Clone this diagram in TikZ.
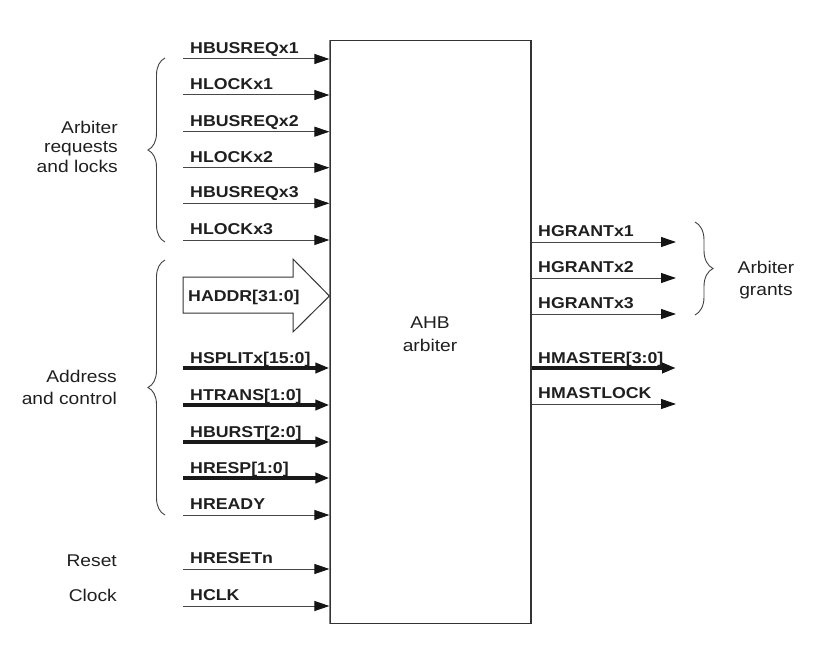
\documentclass[tikz,border=0pt]{standalone}
\usepackage{fontspec}
\setmainfont{Liberation Sans}[FakeStretch=1.13]
\usetikzlibrary{arrows.meta,decorations.pathreplacing}
\begin{document}
\begin{tikzpicture}[x=1pt,y=-1pt,
  sig/.style={draw=black!72, line width=1pt, -{Triangle[length=15pt,width=10pt,color=black!92]}},
  bus/.style={draw=black!90, line width=4pt, -{Triangle[length=14pt,width=10pt,color=black!92]}},
  lab/.style={font=\fontsize{15.7}{18}\selectfont\bfseries, anchor=base west, inner sep=0pt, text=black!88},
  txt/.style={font=\fontsize{17}{20}\selectfont, inner sep=0pt, text=black!88},
  brc/.style={draw=black!75, line width=0.9pt, decorate, decoration={brace, amplitude=17pt}}]
\useasboundingbox (0,0) rectangle (831,661);

% main block
\node[draw=black!80, line width=1.2pt, minimum width=201pt, minimum height=583pt, inner sep=0pt] (box) at (430.5,332) {};
\draw[black!50, line width=1.2pt] (box.north west) -- (box.south west);
\node[txt, anchor=base] (ahb) at (430,328) {AHB};
\node[txt, anchor=base] (arb) at (430,351.7) {arbiter};

% left single-bit inputs
\foreach \n/\y/\t in {1/59/HBUSREQx1, 2/95/HLOCKx1, 3/131.7/HBUSREQx2, 4/167.7/HLOCKx2,
                      5/203.3/HBUSREQx3, 6/240/HLOCKx3, 7/515/HREADY, 8/569/HRESETn, 9/606/HCLK} {
  \coordinate (in\n) at (183,\y);
  \node[lab] (lin\n) at (190,\y-5.5) {\t};
  \draw[sig] (in\n) -- (in\n -| box.west);
}
% left buses
\foreach \n/\y/\t in {1/368/HSPLITx[15:0], 2/405/HTRANS[1:0], 3/442/HBURST[2:0], 4/478/HRESP[1:0]} {
  \coordinate (bin\n) at (183,\y);
  \node[lab] (lbin\n) at (190,\y-5) {\t};
  \draw[bus] (bin\n) -- (bin\n -| box.west);
}
% HADDR fat arrow
\draw[draw=black!80, line width=1pt, fill=white] (183,277) -- (293,277) -- (293,259) -- (box.west |- 0,296) -- (293,332) -- (293,313) -- (183,313) -- cycle;
\node[lab] (haddr) at (188,301.7) {HADDR[31:0]};

% right outputs
\foreach \n/\y/\t in {1/242/HGRANTx1, 2/278/HGRANTx2, 3/314/HGRANTx3, 5/404/HMASTLOCK} {
  \coordinate (out\n) at (676,\y);
  \node[lab] (lout\n) at (538,\y-5.5) {\t};
  \draw[sig] (out\n -| box.east) -- (out\n);
}
\coordinate (out4) at (676,368);
\node[lab] (lout4) at (538,363) {HMASTER[3:0]};
\draw[bus] (out4 -| box.east) -- (out4);

% braces
\draw[brc] (165,242) -- (165,58);
\draw[brc] (165,515) -- (165,260);
\draw[brc, decoration={brace, amplitude=18pt}] (695,222) -- (695,315);

% group texts
\node[txt, anchor=base east] (g1a) at (118,134) {Arbiter};
\node[txt, anchor=base east] (g1b) at (118,153) {requests};
\node[txt, anchor=base east] (g1c) at (118,172) {and locks};
\node[txt, anchor=base east] (g2a) at (117,382.3) {Address};
\node[txt, anchor=base east] (g2b) at (117,404) {and control};
\node[txt, anchor=base east] (rst) at (117,566.7) {Reset};
\node[txt, anchor=base east] (clk) at (117,601.7) {Clock};
\node[txt, anchor=base] (g3a) at (766,273) {Arbiter};
\node[txt, anchor=base] (g3b) at (766,295) {grants};
\end{tikzpicture}
\end{document}
